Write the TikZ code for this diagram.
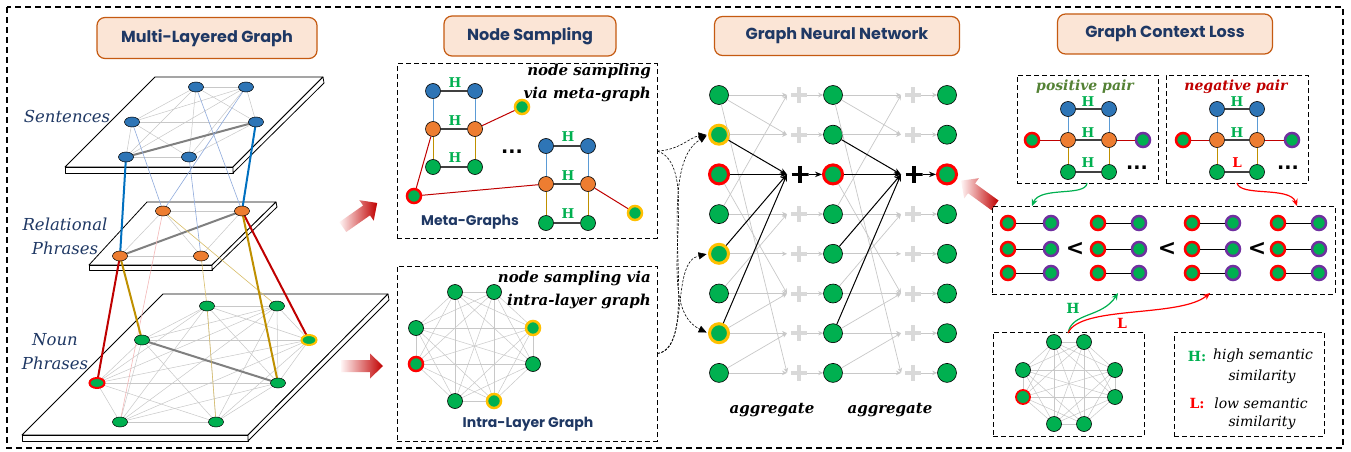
\documentclass[tikz,border=0pt]{standalone}
\usepackage{fontspec}
\setmainfont{DejaVu Serif}
\newfontfamily\titlefont{Poppins}
\newfontfamily\symfont{DejaVu Sans}
\usetikzlibrary{shapes.geometric,arrows.meta}
\definecolor{navy}{HTML}{1F3864}
\definecolor{tfill}{HTML}{FBE5D6}
\definecolor{tdraw}{HTML}{C55A11}
\definecolor{nblue}{HTML}{2E75B6}
\definecolor{norange}{HTML}{ED7D31}
\definecolor{ngreen}{HTML}{00B050}
\definecolor{ringy}{HTML}{FFC000}
\definecolor{ringr}{HTML}{FF0000}
\definecolor{ringp}{HTML}{7030A0}
\definecolor{eblue}{HTML}{0070C0}
\definecolor{lblue}{HTML}{8FAADC}
\definecolor{mblue}{HTML}{5B9BD5}
\definecolor{dred}{HTML}{C00000}
\definecolor{gold}{HTML}{BF9000}
\definecolor{lgold}{HTML}{D9BE6A}
\definecolor{lred}{HTML}{F4B8B8}
\definecolor{egray}{HTML}{C8C8C8}
\definecolor{tgray}{HTML}{808080}
\definecolor{pgray}{HTML}{D9D9D9}
\definecolor{posg}{HTML}{548235}
\definecolor{hgreen}{HTML}{00B050}
\definecolor{dgray}{HTML}{404040}
\pgfdeclarelayer{bgw}
\pgfdeclarelayer{edges}
\pgfsetlayers{bgw,edges,main}
\tikzset{
 titlebox/.style={draw=tdraw, fill=tfill, line width=1.2pt, rounded corners=8pt, font=\titlefont\bfseries\fontsize{16}{18}\selectfont, text=navy, inner sep=0},
 slab/.style={draw=black, fill=white, line width=0.8pt, line join=round},
 ell/.style={ellipse, draw=black, line width=0.5pt, minimum width=15pt, minimum height=10pt, inner sep=0},
 eb/.style={ell, fill=nblue}, eo/.style={ell, fill=norange}, eg/.style={ell, fill=ngreen},
 ey/.style={ell, fill=ngreen, draw=ringy, line width=2pt}, er/.style={ell, fill=ngreen, draw=ringr, line width=2pt},
 lay/.style={font=\itshape\fontsize{16.5}{24}\selectfont, text=navy, align=center},
 mnode/.style={circle, draw=black, line width=0.6pt, minimum size=15pt, inner sep=0},
 mb/.style={mnode, fill=nblue}, mo/.style={mnode, fill=norange}, mg/.style={mnode, fill=ngreen},
 my/.style={mnode, fill=ngreen, draw=ringy, line width=2.5pt, minimum size=14pt},
 mr/.style={mnode, fill=ngreen, draw=ringr, line width=2.5pt, minimum size=14pt},
 mp/.style={mnode, fill=ngreen, draw=ringp, line width=2.5pt, minimum size=14pt},
 gnode/.style={circle, fill=ngreen, draw=black, line width=0.6pt, minimum size=19pt, inner sep=0},
 gnodey/.style={gnode, draw=ringy, line width=3pt},
 gnoder/.style={gnode, draw=ringr, line width=3pt},
 samp/.style={font=\bfseries\itshape\fontsize{15}{23}\selectfont, align=right, inner sep=0},
 hlab/.style={font=\bfseries\fontsize{13.5}{13.5}\selectfont, text=hgreen, inner sep=0},
 sub/.style={font=\titlefont\bfseries\fontsize{14}{16}\selectfont, text=navy, inner sep=0},
 dbox/.style={draw=black, dashed, dash pattern=on 5pt off 3pt, line width=1pt, inner sep=0},
 hedge/.style={draw=dgray, line width=1.2pt},
 vblue/.style={draw=mblue, line width=1pt},
 vgold/.style={draw=gold, line width=1pt},
 redge/.style={draw=dred, line width=1pt},
 lgedge/.style={draw=egray, line width=0.5pt},
 garr/.style={draw=egray, line width=0.7pt, -{Stealth[length=5pt,width=4.5pt]}},
 barr/.style={draw=black, line width=1pt, -{Stealth[length=7pt,width=5.5pt]}},
 plusg/.style={minimum size=16pt, inner sep=0, path picture={\draw[pgray, line width=4pt] (path picture bounding box.north) -- (path picture bounding box.south) (path picture bounding box.west) -- (path picture bounding box.east);}},
 plusb/.style={minimum size=17pt, inner sep=0, path picture={\draw[black, line width=3.6pt] (path picture bounding box.north) -- (path picture bounding box.south) (path picture bounding box.west) -- (path picture bounding box.east);}},
 dcurve/.style={draw=black, dash pattern=on 2.5pt off 1.5pt, line width=0.6pt, -{Triangle[length=8pt,width=7pt]}, shorten >=1.5pt},
 agg/.style={font=\bfseries\itshape\fontsize{15}{15}\selectfont},
 pairlbl/.style={font=\bfseries\itshape\fontsize{14}{14}\selectfont},
 ltxt/.style={font=\itshape\fontsize{14}{14}\selectfont},
 lt/.style={font=\symfont\bfseries\fontsize{22}{22}\selectfont},
 dots/.style={font=\symfont\bfseries\fontsize{19}{19}\selectfont},
}
\newcommand\gradarrow[2]{%
 \begin{scope}[shift={#1}, rotate=#2]
  \shade[left color=red!4, right color=dred] (-21,-6) -- (8,-6) -- (8,-12.5) -- (21,0) -- (8,12.5) -- (8,6) -- (-21,6) -- cycle;
 \end{scope}}
\begin{document}
\begin{tikzpicture}[x=1pt,y=-1pt]
\useasboundingbox (0,0) rectangle (1351,452);
\begin{pgfonlayer}{bgw}
\fill[white] (0,0) rectangle (1351,452);
% slabs
\filldraw[slab] (155,77) -- (323,77) -- (233,167) -- (65,167) -- cycle;
\filldraw[slab] (65,167) -- (233,167) -- (233,173) -- (65,173) -- cycle;
\filldraw[slab] (233,167) -- (323,77) -- (324,83) -- (233,173) -- cycle;
\filldraw[slab] (147,202) -- (276,202) -- (212,265) -- (89,265) -- cycle;
\filldraw[slab] (89,265) -- (212,265) -- (212,270) -- (89,270) -- cycle;
\filldraw[slab] (212,265) -- (276,202) -- (277,207) -- (212,270) -- cycle;
\filldraw[slab] (163,294) -- (388,294) -- (248,435) -- (22,435) -- cycle;
\filldraw[slab] (22,435) -- (248,435) -- (248,441) -- (22,441) -- cycle;
\filldraw[slab] (248,435) -- (388,294) -- (389,300) -- (248,441) -- cycle;
\end{pgfonlayer}

\draw[dashed, dash pattern=on 6pt off 4pt, line width=1.1pt] (7,7) rectangle (1343,448);

% titles
\node[titlebox, minimum width=220, minimum height=41] (t1) at (207,38) {Multi-Layered Graph};
\node[titlebox, minimum width=172, minimum height=40] (t2) at (530,36) {Node Sampling};
\node[titlebox, minimum width=245, minimum height=39] (t3) at (837,36) {Graph Neural Network};
\node[titlebox, minimum width=215, minimum height=40] (t4) at (1165,34) {Graph Context Loss};

% ---------- multi-layered graph ----------
\node[eb] (s1) at (196,87) {};
\node[eb] (s2) at (246,87) {};
\node[eb] (s3) at (132,122) {};
\node[eb] (s4) at (256,122) {};
\node[eb] (s5) at (126,157) {};
\node[eb] (s6) at (189,157) {};
\node[eo] (r1) at (163,211) {};
\node[eo] (r2) at (242,211) {};
\node[eo] (r3) at (120,256) {};
\node[eo] (r4) at (201,256) {};
\node[eg] (n1) at (207,306) {};
\node[eg] (n2) at (277,306) {};
\node[eg] (n3) at (142,340) {};
\node[ey] (n4) at (309,340) {};
\node[er] (n5) at (97,383) {};
\node[eg] (n6) at (278,383) {};
\node[eg] (n7) at (120,422) {};
\node[eg] (n8) at (216,422) {};
\begin{pgfonlayer}{edges}
\foreach \i in {1,...,5}{\pgfmathtruncatemacro\k{\i+1}\foreach \j in {\k,...,6}{\draw[lgedge] (s\i.center)--(s\j.center);}}
\foreach \i in {1,...,3}{\pgfmathtruncatemacro\k{\i+1}\foreach \j in {\k,...,4}{\draw[lgedge] (r\i.center)--(r\j.center);}}
\foreach \i in {1,...,7}{\pgfmathtruncatemacro\k{\i+1}\foreach \j in {\k,...,8}{\draw[lgedge] (n\i.center)--(n\j.center);}}
\draw[draw=tgray, line width=2pt] (s5.center) -- (s4.center);
\draw[draw=tgray, line width=2pt] (r3.center) -- (r2.center);
\draw[draw=tgray, line width=2pt] (n3.center) -- (n6.center);
\foreach \a/\b in {s3/r1, s2/r1, s1/r2, s6/r4} \draw[draw=lblue, line width=0.6pt] (\a.center) -- (\b.center);
\draw[draw=lred, line width=0.6pt] (r1.center) -- (n7.center);
\foreach \a/\b in {r1/n2, r4/n1, n1/n8} \draw[draw=lgold, line width=0.6pt] (\a.center) -- (\b.center);
\draw[draw=eblue, line width=2pt] (s5.center) -- (r3.center);
\draw[draw=eblue, line width=2pt] (s4.center) -- (r2.center);
\draw[draw=dred, line width=2pt] (r3.center) -- (n5.center);
\draw[draw=dred, line width=2pt] (r2.center) -- (n4.center);
\draw[draw=gold, line width=2pt] (r3.center) -- (n3.center);
\draw[draw=gold, line width=2pt] (r2.center) -- (n6.center);
\end{pgfonlayer}
\node[lay] (lsent) at (67,116) {Sentences};
\node[lay] (lrel) at (65,236) {Relational\\Phrases};
\node[lay] (lnoun) at (55,352) {Noun\\Phrases};

% gradient arrows
\gradarrow{(360,215)}{35}
\gradarrow{(362,366)}{0}
\gradarrow{(978,193)}{144}

% ---------- node sampling ----------
\node[dbox, minimum width=260, minimum height=174] (mbox) at (527,151) {};
\node[dbox, minimum width=260, minimum height=175] (ibox) at (527,353.5) {};
\node[samp, anchor=north east] (st1) at (651,64) {node sampling\\via meta-graph};
\node[samp, anchor=north east] (st2) at (651,271) {node sampling via\\intra-layer graph};
% meta graph 1
\node[mb] (ab1) at (433,91) {};
\node[mb] (ab2) at (475,91) {};
\node[mo] (ao1) at (433,129) {};
\node[mo] (ao2) at (475,129) {};
\node[mg] (ag1) at (433,167) {};
\node[mg] (ag2) at (475,167) {};
\node[my] (ay) at (522,107) {};
\node[mr] (mred) at (414,196) {};
% meta graph 2
\node[mb] (bb1) at (546,146) {};
\node[mb] (bb2) at (588,146) {};
\node[mo] (bo1) at (546,184) {};
\node[mo] (bo2) at (588,184) {};
\node[mg] (bg1) at (546,223) {};
\node[mg] (bg2) at (588,223) {};
\node[my] (by) at (635,213) {};
\foreach \p in {a,b}{
 \draw[hedge] (\p b1) -- (\p b2); \draw[hedge] (\p o1) -- (\p o2); \draw[hedge] (\p g1) -- (\p g2);
 \draw[vblue] (\p b1) -- (\p o1); \draw[vblue] (\p b2) -- (\p o2);
 \draw[vgold] (\p o1) -- (\p g1); \draw[vgold] (\p o2) -- (\p g2);
}
\draw[redge] (ao2) -- (ay);
\draw[redge] (ao1) -- (mred);
\draw[redge] (mred) -- (bo1);
\draw[redge] (bo2) -- (by);
\node[hlab] at (455,83) {H};
\node[hlab] at (455,121) {H};
\node[hlab] at (455,158) {H};
\node[hlab] at (568,137) {H};
\node[hlab] at (568,176) {H};
\node[hlab] at (568,214) {H};
\node[dots] (mdots) at (512,152) {...};
\node[sub] (mgl) at (470,222) {Meta-Graphs};
% intra-layer graph
\node[mg] (i1) at (455,292) {};
\node[mg] (i2) at (494,292) {};
\node[mg] (i3) at (416,328) {};
\node[my] (i4) at (533,328) {};
\node[mr] (i5) at (416,364) {};
\node[mg] (i6) at (533,364) {};
\node[mg] (i7) at (455,401) {};
\node[my] (i8) at (494,401) {};
\begin{pgfonlayer}{edges}
\foreach \i in {1,...,7}{\pgfmathtruncatemacro\k{\i+1}\foreach \j in {\k,...,8}{\draw[lgedge] (i\i.center)--(i\j.center);}}
\end{pgfonlayer}
\node[sub] (ilg) at (528,424) {Intra-Layer Graph};

% ---------- GNN ----------
\foreach \c/\x in {1/719,2/833,3/947}{
 \ifnum\c=1
  \foreach \r/\s in {1/gnode,2/gnodey,3/gnoder,4/gnode,5/gnodey,6/gnode,7/gnodey,8/gnode}
   \node[\s] (g\c-\r) at (\x,{95+39.7*(\r-1)}) {};
 \else
  \foreach \r/\s in {1/gnode,2/gnode,3/gnoder,4/gnode,5/gnode,6/gnode,7/gnode,8/gnode}
   \node[\s] (g\c-\r) at (\x,{95+39.7*(\r-1)}) {};
 \fi
}
\foreach \c/\x in {1/799,2/913}{
 \foreach \r in {1,2,4,5,6,7,8}{
  \node[plusg] (p\c-\r) at (\x,{95+39.7*(\r-1)}) {};
 }
 \node[plusb] (p\c-3) at (\x+1,174.4) {};
 \foreach \r in {1,...,8}{
  \coordinate (a\c-\r) at (\x-12,{95+39.7*(\r-1)});
 }
}
\foreach \c in {1,2}{
 \pgfmathtruncatemacro\nc{\c+1}
 \foreach \f/\t in {1/1,2/2,4/4,5/5,6/6,7/7,8/8,1/2,1/8,3/6,4/1,6/4,7/6,8/7}
  \draw[garr] (g\c-\f) -- (a\c-\t);
 \foreach \f in {2,3,5,7}
  \draw[barr] (g\c-\f) -- (a\c-3);
 \foreach \r in {1,2,4,5,6,7,8}
  \draw[garr] (p\c-\r) -- (g\nc-\r);
 \draw[barr] (p\c-3) -- (g\nc-3);
}
\node[agg] (ag1l) at (772,410) {aggregate};
\node[agg] (ag2l) at (890,410) {aggregate};

% dashed curves
\draw[dcurve] (mbox.east) .. controls (680,150) and (690,137) .. (g1-2.west);
\draw[dcurve] (mbox.east) .. controls (705,168) and (650,305) .. (g1-7.west);
\draw[dcurve] (ibox.east) .. controls (705,345) and (650,170) .. (g1-2.west);
\draw[dcurve] (ibox.east) .. controls (690,350) and (670,262) .. (g1-5.west);

% ---------- Graph context loss ----------
\node[dbox, minimum width=141, minimum height=108] (pbox) at (1087.5,129) {};
\node[dbox, minimum width=142, minimum height=108] (nbox) at (1237,129) {};
\node[pairlbl, text=posg] (ppl) at (1085,87) {positive pair};
\node[pairlbl, text=dred] (npl) at (1236,87) {negative pair};
\foreach \p/\xa/\xb/\xr/\xp in {p/1068/1109/1032/1143, q/1217/1257/1183/1292}{
 \node[mb] (\p b1) at (\xa,109) {};
 \node[mb] (\p b2) at (\xb,109) {};
 \node[mo] (\p o1) at (\xa,140) {};
 \node[mo] (\p o2) at (\xb,140) {};
 \node[mg] (\p g1) at (\xa,172) {};
 \node[mg] (\p g2) at (\xb,172) {};
 \node[mr] (\p r) at (\xr,140) {};
 \node[mp] (\p p) at (\xp,140) {};
 \draw[hedge] (\p b1) -- (\p b2); \draw[hedge] (\p o1) -- (\p o2); \draw[hedge] (\p g1) -- (\p g2);
 \draw[vblue] (\p b1) -- (\p o1); \draw[vblue] (\p b2) -- (\p o2);
 \draw[vgold] (\p o1) -- (\p g1); \draw[vgold] (\p o2) -- (\p g2);
 \draw[redge] (\p r) -- (\p o1); \draw[redge] (\p o2) -- (\p p);
}
\node[hlab] at (1088,102) {H};
\node[hlab] at (1088,133) {H};
\node[hlab] at (1088,163) {H};
\node[hlab] at (1237,102) {H};
\node[hlab] at (1237,133) {H};
\node[hlab, text=ringr] at (1237,163) {L};
\node[dots] (pdots) at (1137,168) {...};
\node[dots] (ndots) at (1288,168) {...};

\node[dbox, minimum width=343, minimum height=88] (cbox) at (1163.5,250) {};
\foreach \g/\xl/\xr in {1/1008/1051, 2/1098/1139, 3/1192/1233, 4/1278/1319}{
 \foreach \r/\y in {1/223,2/249,3/273}{
  \node[mr] (cl\g\r) at (\xl,\y) {};
  \node[mp] (cr\g\r) at (\xr,\y) {};
  \draw[draw=black, line width=0.8pt] (cl\g\r) -- (cr\g\r);
 }
}
\node[lt] (lt1) at (1075,249) {<};
\node[lt] (lt2) at (1167,249) {<};
\node[lt] (lt3) at (1257,249) {<};

\coordinate (pbot) at (1087,183);
\coordinate (nbot) at (1237,183);
\coordinate (ctl) at (1032,206);
\coordinate (ctr) at (1297,206);
\draw[draw=hgreen, line width=1.2pt, -{Stealth[length=7pt,width=6pt]}] (pbot) .. controls (1086,197) and (1040,186) .. (ctl);
\draw[draw=ringr, line width=1.2pt, -{Stealth[length=7pt,width=6pt]}] (nbot) .. controls (1240,197) and (1290,186) .. (ctr);

\node[dbox, minimum width=151, minimum height=104] (gbox) at (1068.5,384) {};
\node[mg] (q1) at (1054,342) {};
\node[mg] (q2) at (1084,342) {};
\node[mg] (q3) at (1023,370) {};
\node[mg] (q4) at (1115,370) {};
\node[mr, line width=1.8pt] (q5) at (1023,397) {};
\node[mg] (q6) at (1115,397) {};
\node[mg] (q7) at (1054,424) {};
\node[mg] (q8) at (1084,424) {};
\begin{pgfonlayer}{edges}
\foreach \i in {1,...,7}{\pgfmathtruncatemacro\k{\i+1}\foreach \j in {\k,...,8}{\draw[lgedge] (q\i.center)--(q\j.center);}}
\end{pgfonlayer}
\coordinate (gtop) at (1068,333);
\coordinate (cin1) at (1118,293);
\coordinate (cin2) at (1210,293);
\draw[draw=hgreen, line width=1.2pt, -{Stealth[length=7pt,width=6pt]}] (gtop) .. controls (1072,312) and (1102,318) .. (cin1);
\draw[draw=ringr, line width=1.2pt, -{Stealth[length=7pt,width=6pt]}] (gtop) .. controls (1080,305) and (1180,318) .. (cin2);
\node[hlab, font=\bfseries\fontsize{14}{14}\selectfont] at (1073,308) {H};
\node[hlab, text=ringr, font=\bfseries\fontsize{14}{14}\selectfont] at (1122,323) {L};

\node[dbox, minimum width=150, minimum height=104] (lbox) at (1249,384) {};
\node[hlab, font=\bfseries\fontsize{14}{14}\selectfont] (lh) at (1197,356) {H:};
\node[ltxt] (lh1) at (1263,356) {high semantic};
\node[ltxt] (lh2) at (1262,377) {similarity};
\node[hlab, text=ringr, font=\bfseries\fontsize{14}{14}\selectfont] (ll) at (1197,403) {L:};
\node[ltxt] (ll1) at (1261,403) {low semantic};
\node[ltxt] (ll2) at (1262,423) {similarity};
\end{tikzpicture}
\end{document}
